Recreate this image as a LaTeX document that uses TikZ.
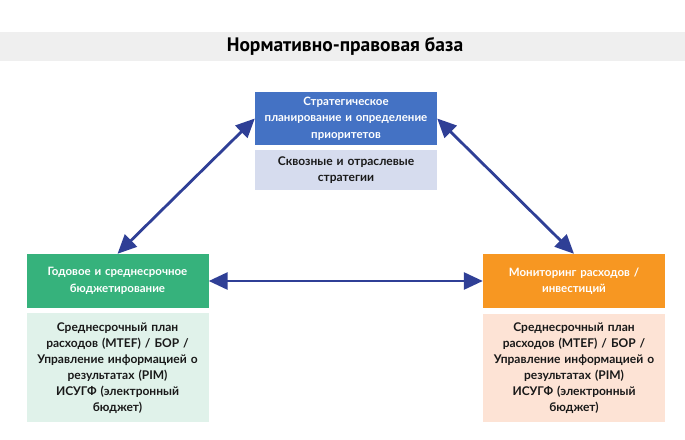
\documentclass[tikz,border=0pt]{standalone}
\usepackage{fontspec}
\setmainfont{Lato}
\newfontfamily\titlefont{PT Sans}
\usepackage{xcolor}
\definecolor{bandgray}{RGB}{239,239,239}
\definecolor{stratblue}{RGB}{68,114,196}
\definecolor{stratbg}{RGB}{214,220,238}
\definecolor{budgreen}{RGB}{54,178,124}
\definecolor{budbg}{RGB}{224,242,234}
\definecolor{monorange}{RGB}{247,151,34}
\definecolor{monbg}{RGB}{253,227,213}
\definecolor{arrblue}{RGB}{47,63,150}
\usepackage{tikz}
\usetikzlibrary{arrows.meta,positioning}
\tikzset{
  hd_box/.style={rectangle,draw=none,
    minimum width=182,minimum height=54,
    text width=174,align=center,text=white,
    font=\fontsize{11.5}{16.5}\selectfont\bfseries,
    inner sep=0pt},
  sub_box/.style={rectangle,draw=none,
    minimum width=182,
    text width=176,align=center,text=black!90,
    font=\fontsize{12}{16}\selectfont\bfseries,
    inner sep=0pt},
  arr/.style={{Triangle[length=19,width=17]}-{Triangle[length=19,width=17]},
    line width=2.8,draw=arrblue},
}

\begin{document}
\begin{tikzpicture}[x=1pt,y=-1pt]
  \useasboundingbox (0,0) rectangle (685,439);
  % title band
  \fill[bandgray] (0,32) rectangle (685,61);
  \node (title) at (345,46.5)
    {\titlefont\fontsize{19.5}{20}\selectfont\bfseries Нормативно-правовая база};
  % three blocks
  \node (strat) [hd_box,fill=stratblue,minimum height=53] at (346,118.5)
    {Стратегическое\\ планирование и определение\\ приоритетов};
  \node (strat_sub) [sub_box,fill=stratbg,minimum height=40,below=5pt of strat]
    {Сквозные и отраслевые\\ стратегии};
  \node (budget) [hd_box,fill=budgreen] at (117.5,281)
    {Годовое и среднесрочное\\ бюджетирование};
  \node (budget_sub) [sub_box,fill=budbg,minimum height=109,below=5pt of budget]
    {Среднесрочный план\\ расходов (MTEF) / БОР /\\ Управление информацией о\\
     результатах (PIM)\\ ИСУГФ (электронный\\ бюджет)};
  \node (monit) [hd_box,fill=monorange] at (574,281)
    {Мониторинг расходов /\\ инвестиций};
  \node (monit_sub) [sub_box,fill=monbg,minimum height=108,below=6pt of monit]
    {Среднесрочный план\\ расходов (MTEF) / БОР /\\ Управление информацией о\\
     результатах (PIM)\\ ИСУГФ (электронный\\ бюджет)};

  \draw[arr] (budget.north) -- (strat.west);
  \draw[arr] (strat.east) -- (monit.north);
  \draw[arr] (budget.east) -- (monit.west);
\end{tikzpicture}
\end{document}
